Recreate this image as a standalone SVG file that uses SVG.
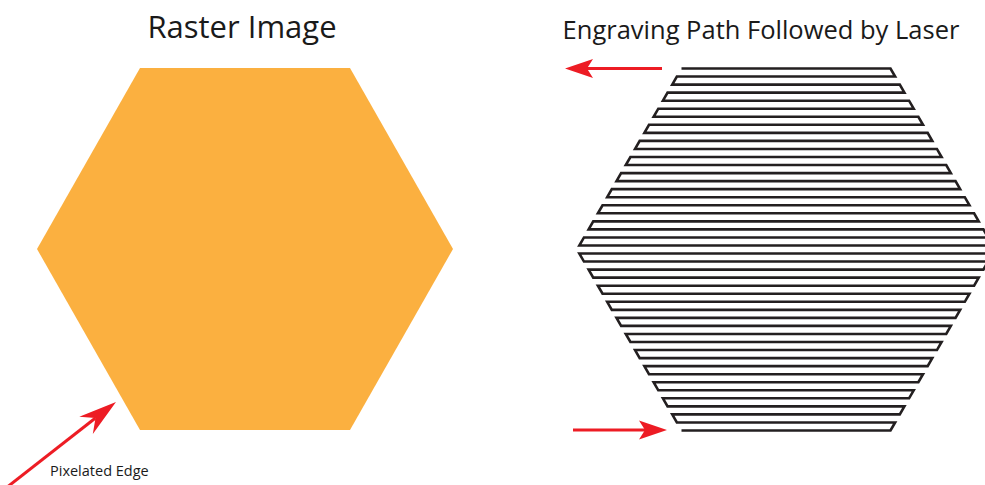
<svg xmlns="http://www.w3.org/2000/svg" width="985" height="485" viewBox="0 0 985 485">
  <style>
    .title { font-family: "Open Sans", "Noto Sans", "Liberation Sans", sans-serif; fill: #1a1a1a; text-anchor: middle; }
    .label { font-family: "Open Sans", "Noto Sans", "Liberation Sans", sans-serif; fill: #1a1a1a; font-size: 14.5px; }
    .arrow { fill: none; stroke: #ED1C24; stroke-width: 3; }
    .head { fill: #ED1C24; stroke: none; }
    .hatch { fill: none; stroke: #231f20; stroke-width: 2.6; stroke-linejoin: miter; stroke-linecap: butt; }
  </style>
  <defs>
    <marker id="ah" markerUnits="userSpaceOnUse" viewBox="-8 -11 32 22" refX="0" refY="0" markerWidth="32" markerHeight="22" orient="auto">
      <path class="head" d="M0,0 L-6,-9.5 L22,0 L-6,9.5 Z"/>
    </marker>
    <marker id="ah2" markerUnits="userSpaceOnUse" viewBox="-14 -13 44 26" refX="0" refY="0" markerWidth="44" markerHeight="26" orient="auto">
      <path class="head" d="M0,0 L-12,-11 L26,0 L-12,11 Z"/>
    </marker>
  </defs>
  <rect width="985" height="485" fill="#ffffff"/>

  <g id="raster-title">
    <text class="title" x="242" y="38" font-size="31">Raster Image</text>
  </g>
  <g id="engraving-title">
    <text class="title" x="761" y="39" font-size="25.5">Engraving Path Followed by Laser</text>
  </g>

  <g id="raster-hexagon">
    <polygon points="140,68 350,68 453,249 350,430 140,430 37,249" fill="#FBB040"/>
  </g>

  <g id="engraving-path">
    <path class="hatch" d="M681.5,68.5 H890.5 L895.13,76.54 H676.87 L672.22,84.59 H899.78 L904.43,92.63 H667.57 L662.93,100.68 H909.07 L913.71,108.72 H658.29 L653.64,116.77 H918.36 L923,124.81 H649 L644.35,132.86 H927.65 L932.29,140.9 H639.71 L635.06,148.94 H936.94 L941.58,156.99 H630.42 L625.77,165.03 H946.23 L950.87,173.08 H621.13 L616.48,181.12 H955.52 L960.17,189.17 H611.83 L607.19,197.21 H964.81 L969.46,205.26 H602.54 L597.9,213.3 H974.1 L978.74,221.34 H593.26 L588.61,229.39 H983.39 L988.03,237.43 H583.97 L579.32,245.48 H992.68 L992.68,253.52 H579.32 L583.97,261.57 H988.03 L983.39,269.61 H588.61 L593.26,277.66 H978.74 L974.1,285.7 H597.9 L602.54,293.74 H969.46 L964.81,301.79 H607.19 L611.83,309.83 H960.17 L955.52,317.88 H616.48 L621.13,325.92 H950.87 L946.23,333.97 H625.77 L630.42,342.01 H941.58 L936.94,350.06 H635.06 L639.71,358.1 H932.29 L927.65,366.14 H644.35 L649,374.19 H923 L918.36,382.23 H653.64 L658.29,390.28 H913.71 L909.07,398.32 H662.93 L667.57,406.37 H904.43 L899.78,414.41 H672.22 L676.87,422.46 H895.13 L890.5,430.5 H681.5"/>
  </g>

  <g id="pixelated-edge-label">
    <text class="label" x="50" y="476">Pixelated Edge</text>
  </g>

  <g id="connectors">
    <path class="arrow" d="M662,68.5 H587" marker-end="url(#ah)"/>
    <path class="arrow" d="M573,430 H645" marker-end="url(#ah)"/>
    <path class="arrow" d="M6,488 L95.5,418" marker-end="url(#ah2)"/>
  </g>
</svg>
